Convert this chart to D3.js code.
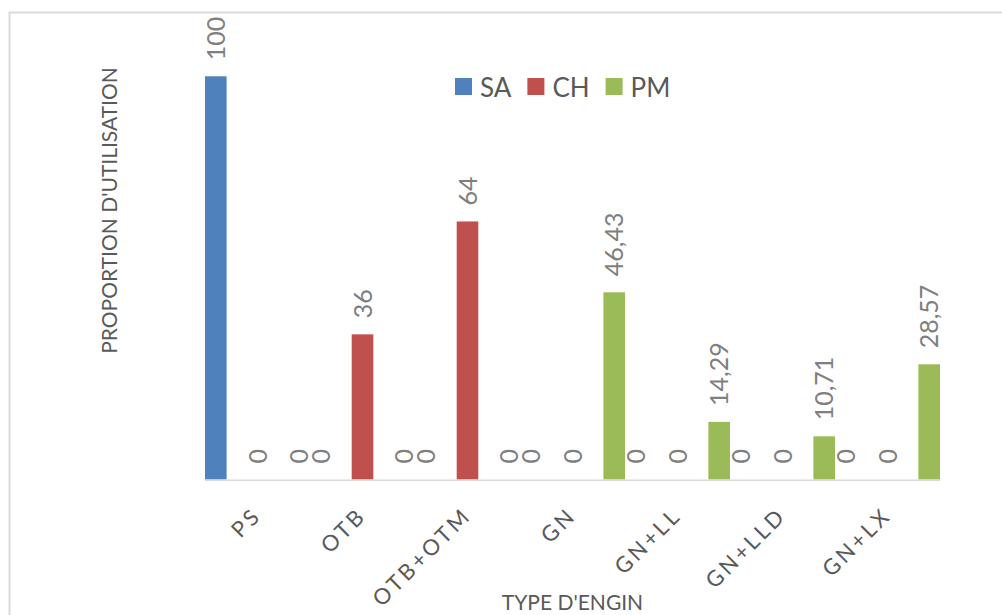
<!DOCTYPE html>
<html>
<head>
<meta charset="utf-8">
<script src="https://cdn.jsdelivr.net/npm/d3@7"></script>
<style>
  html, body { margin: 0; padding: 0; background: #fff; }
  svg { display: block; }
</style>
</head>
<body>
<svg id="chart" width="1002" height="615"></svg>
<script>
// Fishing gear types and their usage share per zone
const categories = ["PS", "OTB", "OTB+OTM", "GN", "GN+LL", "GN+LLD", "GN+LX"];
const seriesNames = ["SA", "CH", "PM"];
const saValues = [100, 0, 0, 0, 0, 0, 0];
const chValues = [0, 36, 64, 0, 0, 0, 0];
const pmValues = [0, 0, 0, 46.43, 14.29, 10.71, 28.57];
const seriesColors = ["#4F81BD", "#C0504D", "#9BBB59"];
const xTitle = "TYPE D'ENGIN";
const yTitle = "PROPORTION D'UTILISATION";

const seriesValues = [saValues, chValues, pmValues];
const rows = [];
categories.forEach((cat, i) => {
  seriesNames.forEach((s, j) => {
    rows.push({ cat, series: s, value: seriesValues[j][i], color: seriesColors[j] });
  });
});

const svg = d3.select("#chart");
const font = "Lato, 'Open Sans', sans-serif";

// chart frame
svg.append("rect")
  .attr("x", 9.5).attr("y", 12.5)
  .attr("width", 1010).attr("height", 620)
  .attr("fill", "#fff")
  .attr("stroke", "#d9d9d9").attr("stroke-width", 2);

const plotLeft = 205, plotRight = 940;
const baseY = 479.5, topY = 76.3;

const x0 = d3.scaleBand().domain(categories).range([plotLeft, plotRight]).padding(0);
const x1 = d3.scaleBand().domain(seriesNames).range([0, x0.bandwidth()])
  .paddingInner(0.482).paddingOuter(0);
const y = d3.scaleLinear().domain([0, 100]).range([baseY, topY]);

// bars
svg.append("g").selectAll("rect")
  .data(rows)
  .join("rect")
  .attr("x", d => x0(d.cat) + x1(d.series))
  .attr("y", d => y(d.value))
  .attr("width", x1.bandwidth())
  .attr("height", d => y(0) - y(d.value))
  .attr("fill", d => d.color);

// category axis line
svg.append("line")
  .attr("x1", plotLeft).attr("x2", plotRight)
  .attr("y1", baseY + 0.8).attr("y2", baseY + 0.8)
  .attr("stroke", "#d9d9d9").attr("stroke-width", 1.6);

// value labels (rotated)
svg.append("g").selectAll("text")
  .data(rows)
  .join("text")
  .attr("transform", d => {
    const cx = x0(d.cat) + x1(d.series) + x1.bandwidth() / 2 + 9;
    const cy = y(d.value) - 16;
    return `translate(${cx},${cy}) rotate(-90)`;
  })
  .attr("font-family", font)
  .attr("font-size", 25)
  .attr("fill", "#7f7f7f")
  .text(d => String(d.value).replace(".", ","));

// category tick labels, rotated -45
svg.append("g").selectAll("text")
  .data(categories)
  .join("text")
  .attr("transform", d => `translate(${x0(d) + x0.bandwidth() / 2 + 5},${517}) rotate(-45)`)
  .attr("text-anchor", "end")
  .attr("font-family", font)
  .attr("font-size", 22)
  .attr("letter-spacing", 3)
  .attr("fill", "#595959")
  .text(d => d);

// axis titles
svg.append("text")
  .attr("x", (plotLeft + plotRight) / 2)
  .attr("y", 610)
  .attr("text-anchor", "middle")
  .attr("font-family", font)
  .attr("font-size", 21)
  .attr("fill", "#595959")
  .text(xTitle);

svg.append("text")
  .attr("transform", "translate(116.5,210.5) rotate(-90)")
  .attr("text-anchor", "middle")
  .attr("font-family", font)
  .attr("font-size", 21)
  .attr("fill", "#595959")
  .text(yTitle);

// legend
const legend = svg.append("g");
let lx = 455;
seriesNames.forEach((s, j) => {
  legend.append("rect")
    .attr("x", lx).attr("y", 78)
    .attr("width", 17).attr("height", 17)
    .attr("fill", seriesColors[j]);
  const t = legend.append("text")
    .attr("x", lx + 25).attr("y", 96.5)
    .attr("font-family", font)
    .attr("font-size", 26)
    .attr("fill", "#595959")
    .text(s);
  lx += 25 + t.node().getComputedTextLength() + 16;
});
</script>
</body>
</html>
